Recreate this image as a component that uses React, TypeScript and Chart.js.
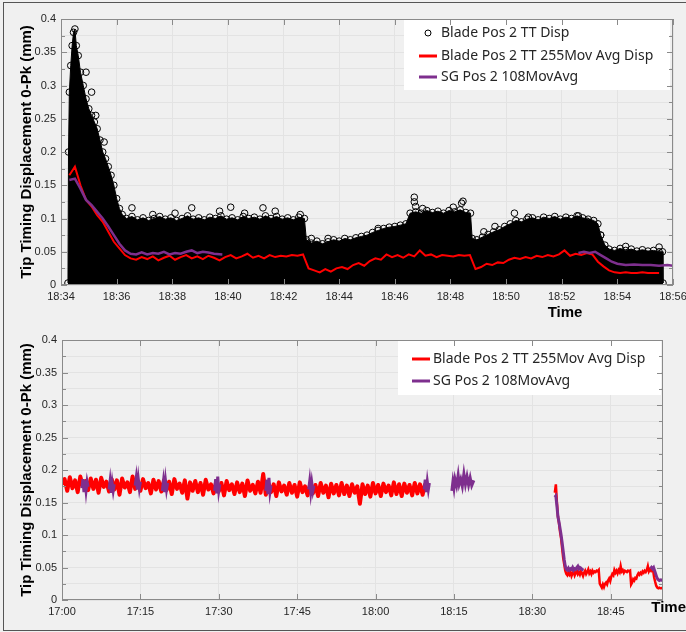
import React, { useEffect, useRef } from 'react';
import { Chart, registerables } from 'chart.js';

Chart.register(...registerables);

// ---------- tick labels ----------
const TOP_X_TICKS = ['18:34', '18:36', '18:38', '18:40', '18:42', '18:44', '18:46', '18:48', '18:50', '18:52', '18:54', '18:56'];
const BOTTOM_X_TICKS = ['17:00', '17:15', '17:30', '17:45', '18:00', '18:15', '18:30', '18:45'];
const BOTTOM_X_END = '18:55';
const Y_TICKS = [0, 0.025, 0.05, 0.075, 0.1, 0.125, 0.15, 0.175, 0.2, 0.225, 0.25, 0.275, 0.3, 0.325, 0.35, 0.375, 0.4];
const Y_LABELED = [0, 0.05, 0.1, 0.15, 0.2, 0.25, 0.3, 0.35, 0.4];

// ---------- series labels ----------
const LABEL_TT = 'Blade Pos 2 TT Disp';
const LABEL_RED = 'Blade Pos 2 TT 255Mov Avg Disp';
const LABEL_SG = 'SG Pos 2 108MovAvg';
const Y_TITLE = 'Tip Timing Displacement 0-Pk (mm)';
const X_TITLE = 'Time';

// ---------- top chart: raw tip timing scatter (upper edge of the dense cloud, minutes after 18:00, mm) ----------
const ttCloudTop: [number, number][] = [
  [34.25, 0.003], [34.27, 0.2], [34.3, 0.29], [34.35, 0.33], [34.4, 0.36], [34.45, 0.38], [34.5, 0.385], [34.55, 0.36],
  [34.62, 0.345], [34.7, 0.32], [34.8, 0.3], [34.9, 0.28], [35.0, 0.265], [35.1, 0.255], [35.2, 0.245], [35.3, 0.235],
  [35.4, 0.218], [35.5, 0.2], [35.6, 0.19], [35.7, 0.178], [35.8, 0.165], [35.9, 0.15], [36.0, 0.13], [36.1, 0.115],
  [36.2, 0.106], [36.35, 0.1], [36.55, 0.103], [36.75, 0.098], [36.95, 0.101], [37.15, 0.097], [37.35, 0.1], [37.55, 0.103],
  [37.75, 0.099], [37.95, 0.101], [38.15, 0.097], [38.35, 0.1], [38.55, 0.104], [38.75, 0.099], [38.95, 0.101], [39.15, 0.098],
  [39.35, 0.102], [39.55, 0.1], [39.75, 0.104], [39.95, 0.099], [40.15, 0.101], [40.35, 0.098], [40.55, 0.103], [40.75, 0.1],
  [40.95, 0.102], [41.15, 0.099], [41.35, 0.104], [41.55, 0.1], [41.75, 0.103], [41.95, 0.099], [42.15, 0.101], [42.35, 0.098],
  [42.55, 0.102], [42.75, 0.1], [42.82, 0.068], [43.0, 0.063], [43.2, 0.066], [43.4, 0.062], [43.6, 0.065], [43.8, 0.068],
  [44.0, 0.066], [44.2, 0.07], [44.4, 0.068], [44.6, 0.071], [44.8, 0.073], [45.0, 0.075], [45.2, 0.079], [45.4, 0.082],
  [45.6, 0.085], [45.8, 0.087], [46.0, 0.088], [46.2, 0.09], [46.4, 0.092], [46.55, 0.108], [46.75, 0.11], [46.95, 0.108],
  [47.15, 0.112], [47.35, 0.109], [47.55, 0.111], [47.75, 0.108], [47.95, 0.112], [48.15, 0.11], [48.35, 0.113], [48.55, 0.109],
  [48.72, 0.108], [48.78, 0.07], [48.95, 0.068], [49.15, 0.072], [49.35, 0.076], [49.55, 0.08], [49.75, 0.083], [49.95, 0.088],
  [50.15, 0.092], [50.35, 0.097], [50.55, 0.095], [50.75, 0.099], [50.95, 0.101], [51.15, 0.098], [51.35, 0.102], [51.55, 0.1],
  [51.75, 0.103], [51.95, 0.099], [52.15, 0.102], [52.35, 0.1], [52.55, 0.104], [52.75, 0.101], [52.95, 0.099], [53.15, 0.097],
  [53.3, 0.092], [53.4, 0.075], [53.55, 0.06], [53.7, 0.054], [53.9, 0.052], [54.1, 0.055], [54.3, 0.052], [54.5, 0.054],
  [54.7, 0.051], [54.9, 0.053], [55.1, 0.051], [55.3, 0.052], [55.5, 0.05], [55.62, 0.05], [55.64, 0.003],
];

// isolated circles above the cloud (minutes after 18:00, mm)
const ttOutliers: [number, number][] = [
  [34.9, 0.32], [35.1, 0.29], [35.25, 0.255], [35.55, 0.215], [36.55, 0.116], [37.3, 0.106], [38.1, 0.108], [38.7, 0.116],
  [39.7, 0.111], [40.1, 0.117], [40.6, 0.108], [41.26, 0.116], [41.7, 0.111], [42.6, 0.106], [43.0, 0.07], [43.6, 0.07],
  [45.4, 0.085], [46.7, 0.132], [46.7, 0.125], [46.75, 0.118], [47.0, 0.115], [48.1, 0.117], [48.4, 0.123], [48.45, 0.126],
  [49.2, 0.08], [49.6, 0.088], [50.3, 0.108], [50.8, 0.102], [52.6, 0.104], [52.9, 0.096], [53.4, 0.075], [54.3, 0.058],
  [55.5, 0.057],
];

// ---------- 255-sample moving average, late run (from 18:34.3, every 0.2 min) ----------
const redLateStart = 34.3;
const redLateStep = 0.2;
const redLate = [
  0.165, 0.178, 0.15, 0.128, 0.118, 0.105, 0.095, 0.08, 0.065, 0.055,
  0.045, 0.04, 0.038, 0.042, 0.039, 0.043, 0.037, 0.041, 0.044, 0.038,
  0.042, 0.045, 0.04, 0.043, 0.039, 0.044, 0.041, 0.037, 0.042, 0.045,
  0.04, 0.043, 0.047, 0.041, 0.044, 0.04, 0.045, 0.042, 0.044, 0.043,
  0.045, 0.044, 0.046, 0.025, 0.022, 0.019, 0.024, 0.02, 0.025, 0.027,
  0.024, 0.03, 0.033, 0.029, 0.036, 0.04, 0.038, 0.046, 0.042, 0.045,
  0.041, 0.046, 0.043, 0.052, 0.044, 0.046, 0.042, 0.045, 0.044, 0.043,
  0.045, 0.044, 0.045, 0.024, 0.027, 0.032, 0.03, 0.034, 0.033, 0.038,
  0.041, 0.039, 0.042, 0.04, 0.044, 0.042, 0.045, 0.043, 0.046, 0.052,
  0.044, 0.047, 0.045, 0.048, 0.046, 0.035, 0.028, 0.022, 0.019, 0.018,
  0.019, 0.018, 0.018, 0.019, 0.018, 0.018, 0.018,
];

// ---------- strain gauge 108 moving average, late run (minutes after 18:00) ----------
const sgLate: [number, number | null][] = [
  [34.3, 0.158], [34.5, 0.16], [34.7, 0.145], [34.9, 0.128], [35.1, 0.12], [35.3, 0.11], [35.5, 0.1], [35.7, 0.088],
  [35.9, 0.075], [36.1, 0.062], [36.3, 0.052], [36.5, 0.047], [36.7, 0.046], [36.9, 0.049], [37.1, 0.046], [37.3, 0.048],
  [37.5, 0.047], [37.7, 0.05], [37.9, 0.046], [38.1, 0.048], [38.3, 0.047], [38.5, 0.05], [38.7, 0.052], [38.9, 0.048],
  [39.1, 0.05], [39.3, 0.049], [39.5, 0.047], [39.8, 0.046], [40.0, null],
  [52.6, 0.048], [52.8, 0.05], [53.0, 0.048], [53.2, 0.05], [53.4, 0.045], [53.6, 0.04], [53.8, 0.035], [54.0, 0.032],
  [54.3, 0.03], [54.6, 0.031], [54.9, 0.03], [55.2, 0.03], [55.5, 0.029], [55.8, 0.03], [56.0, 0.029],
];

// ---------- bottom chart, early run 17:00 - 18:09.5 (every 0.5 min) ----------
const redEarlyStart = 0; // minutes after 17:00
const redEarlyStep = 0.5;
const redEarly = [
  0.178, 0.186, 0.168, 0.189, 0.172, 0.184, 0.166, 0.19, 0.175, 0.183, 0.169, 0.187, 0.171, 0.185, 0.165, 0.188, 0.174, 0.182, 0.167, 0.186,
  0.17, 0.184, 0.162, 0.187, 0.173, 0.181, 0.166, 0.19, 0.171, 0.183, 0.168, 0.186, 0.172, 0.18, 0.164, 0.185, 0.17, 0.183, 0.167, 0.184,
  0.169, 0.182, 0.163, 0.186, 0.171, 0.179, 0.165, 0.184, 0.156, 0.181, 0.168, 0.183, 0.166, 0.18, 0.162, 0.185, 0.17, 0.178, 0.164, 0.182,
  0.167, 0.18, 0.161, 0.183, 0.169, 0.178, 0.163, 0.181, 0.166, 0.179, 0.16, 0.184, 0.168, 0.177, 0.164, 0.182, 0.165, 0.194, 0.162, 0.179,
  0.166, 0.178, 0.16, 0.181, 0.167, 0.176, 0.162, 0.18, 0.165, 0.177, 0.159, 0.181, 0.166, 0.175, 0.161, 0.179, 0.164, 0.177, 0.16, 0.18,
  0.165, 0.176, 0.158, 0.179, 0.164, 0.177, 0.161, 0.18, 0.163, 0.176, 0.16, 0.178, 0.165, 0.175, 0.148, 0.178, 0.163, 0.176, 0.159, 0.18,
  0.164, 0.177, 0.16, 0.179, 0.166, 0.176, 0.161, 0.181, 0.163, 0.178, 0.16, 0.179, 0.165, 0.177, 0.161, 0.18, 0.164, 0.178, 0.162, 0.179,
];

// strain gauge bursts in the early run (minutes after 17:00, mm; null = gap)
const sgEarly: [number, number | null][] = [
  [3.8, 0.172], [4.0, 0.186], [4.2, 0.166], [4.4, 0.184], [4.6, 0.168], [4.8, 0.182], [5.0, 0.174], [5.1, null],
  [9.0, 0.17], [9.2, 0.183], [9.4, 0.165], [9.6, 0.18], [9.8, 0.168], [10.0, 0.178], [10.1, null],
  [14.0, 0.176], [14.2, 0.188], [14.4, 0.17], [14.6, 0.186], [14.8, 0.172], [15.0, 0.182], [15.1, null],
  [19.2, 0.168], [19.4, 0.182], [19.6, 0.166], [19.8, 0.184], [20.0, 0.17], [20.2, 0.18], [20.3, null],
  [29.2, 0.168], [29.4, 0.186], [29.6, 0.164], [29.8, 0.19], [30.0, 0.168], [30.2, 0.178], [30.3, null],
  [39.0, 0.168], [39.2, 0.185], [39.4, 0.163], [39.6, 0.188], [39.8, 0.166], [40.0, 0.176], [40.1, null],
  [47.2, 0.17], [47.4, 0.183], [47.6, 0.166], [47.8, 0.18], [48.0, 0.168], [48.2, 0.176], [48.3, null],
  [69.3, 0.17], [69.5, 0.185], [69.7, 0.166], [69.9, 0.182], [70.1, 0.17], [70.3, 0.18], [70.4, null],
  [74.6, 0.168], [74.8, 0.182], [75.0, 0.172], [75.2, 0.186], [75.5, 0.176], [75.8, 0.192], [76.0, 0.178], [76.3, 0.186],
  [76.6, 0.175], [76.9, 0.194], [77.2, 0.178], [77.5, 0.19], [77.8, 0.177], [78.1, 0.188], [78.4, 0.176], [78.8, 0.184], [78.9, null],
];

// ---------- colours ----------
const RED = '#ff0000';
const PURPLE = '#7e2f8e';
const GRID = '#e3e3e3';
const AXIS = '#8a8a8a';
const TEXT = '#262626';
const FONT = '"Liberation Sans", Arial, sans-serif';
const LEGEND_FONT = '"Noto Sans", "Open Sans", sans-serif';

// ---------- helpers ----------
const hm = (s: string) => {
  const [h, m] = s.split(':').map(Number);
  return h * 60 + m;
};
const fmt = (v: number) => {
  const h = Math.floor(v / 60 + 1e-9);
  const m = Math.round(v - h * 60);
  return `${h}:${m < 10 ? '0' : ''}${m}`;
};
const H18 = hm('18:00');
const H17 = hm('17:00');

const toPts = (arr: [number, number | null][], base: number) => arr.map(([t, v]) => ({ x: base + t, y: v }));
const seriesPts = (vals: number[], start: number, step: number, base: number) =>
  vals.map((v, i) => ({ x: base + start + i * step, y: v }));

const matlabPlugin = {
  id: 'matlab',
  afterDatasetsDraw(chart: any, _args: any, opts: any) {
    const { ctx, chartArea: ca, scales } = chart;
    const xs = scales.x;
    const ys = scales.y;
    ctx.save();
    // legend box
    const lg = opts.legend;
    ctx.fillStyle = '#ffffff';
    ctx.fillRect(lg.x, lg.y, lg.w, lg.h);
    ctx.font = `${lg.fontSize}px ${LEGEND_FONT}`;
    ctx.textBaseline = 'middle';
    ctx.textAlign = 'left';
    const items = chart.data.datasets.filter((d: any) => d.legendMarker);
    items.forEach((d: any, i: number) => {
      const cy = lg.rows[i];
      if (d.legendMarker === 'circle') {
        ctx.beginPath();
        ctx.arc(lg.markerX, cy, 3, 0, Math.PI * 2);
        ctx.strokeStyle = '#000';
        ctx.lineWidth = 1;
        ctx.stroke();
      } else {
        ctx.beginPath();
        ctx.moveTo(lg.lineX0, cy);
        ctx.lineTo(lg.lineX1, cy);
        ctx.strokeStyle = d.borderColor;
        ctx.lineWidth = 3;
        ctx.stroke();
      }
      ctx.fillStyle = TEXT;
      ctx.fillText(d.label, lg.textX, cy + 0.5);
    });
    // axes box
    ctx.strokeStyle = AXIS;
    ctx.lineWidth = 1;
    ctx.strokeRect(Math.round(ca.left) + 0.5, Math.round(ca.top) + 0.5, Math.round(ca.width) - 1, Math.round(ca.height) - 1);
    // inward ticks
    ctx.beginPath();
    ys.ticks.forEach((t: any) => {
      const py = Math.round(ys.getPixelForValue(t.value)) + 0.5;
      const major = Y_LABELED.some((v) => Math.abs(v - t.value) < 1e-6);
      const len = major ? 6 : 4;
      ctx.moveTo(ca.left, py);
      ctx.lineTo(ca.left + len, py);
      ctx.moveTo(ca.right, py);
      ctx.lineTo(ca.right - len, py);
    });
    xs.ticks.forEach((t: any) => {
      const px = Math.round(xs.getPixelForValue(t.value)) + 0.5;
      ctx.moveTo(px, ca.bottom);
      ctx.lineTo(px, ca.bottom - 6);
      ctx.moveTo(px, ca.top);
      ctx.lineTo(px, ca.top + 6);
    });
    ctx.stroke();
    ctx.restore();
  },
  afterDraw(chart: any, _args: any, opts: any) {
    const { ctx } = chart;
    ctx.save();
    ctx.fillStyle = '#000';
    ctx.textBaseline = 'middle';
    ctx.font = `bold 15px ${FONT}`;
    ctx.translate(opts.yTitle.x, opts.yTitle.y);
    ctx.rotate(-Math.PI / 2);
    ctx.textAlign = 'center';
    ctx.fillText(Y_TITLE, 0, 0);
    ctx.restore();
    ctx.save();
    ctx.fillStyle = '#000';
    ctx.textBaseline = 'middle';
    ctx.font = `bold 15px ${FONT}`;
    ctx.textAlign = opts.xTitle.align;
    ctx.fillText(X_TITLE, opts.xTitle.x, opts.xTitle.y);
    ctx.restore();
  },
};

function makeOptions(xMin: number, xMax: number, xTicks: number[], g: any, pluginOpts: any) {
  return {
    responsive: false,
    animation: false,
    devicePixelRatio: 1,
    layout: { padding: { left: 0, right: g.padRight, top: g.padTop, bottom: 0 } },
    plugins: { legend: { display: false }, tooltip: { enabled: false }, matlab: pluginOpts },
    elements: { line: { tension: 0 } },
    scales: {
      x: {
        type: 'linear',
        min: xMin,
        max: xMax,
        afterBuildTicks: (s: any) => {
          s.ticks = xTicks.map((v) => ({ value: v }));
        },
        afterFit: (s: any) => {
          s.height = g.xHeight;
          s.paddingLeft = 0;
          s.paddingRight = 0;
        },
        grid: { color: GRID, drawTicks: false },
        border: { display: false },
        ticks: {
          autoSkip: false,
          maxRotation: 0,
          padding: 5,
          color: TEXT,
          font: { family: FONT, size: 11 },
          callback: (v: number) => fmt(v),
        },
      },
      y: {
        type: 'linear',
        min: 0,
        max: 0.4,
        afterBuildTicks: (s: any) => {
          s.ticks = Y_TICKS.map((v) => ({ value: v }));
        },
        afterFit: (s: any) => {
          s.width = g.yWidth;
        },
        grid: { color: GRID, drawTicks: false },
        border: { display: false },
        ticks: {
          autoSkip: false,
          padding: 5,
          color: TEXT,
          font: { family: FONT, size: 11 },
          callback: (v: number) =>
            Y_LABELED.some((u) => Math.abs(u - v) < 1e-6) ? String(Math.round(v * 1000) / 1000) : '',
        },
      },
    },
  };
}

function topConfig() {
  const xTicks = TOP_X_TICKS.map(hm);
  return {
    type: 'line',
    data: {
      datasets: [
        {
          label: LABEL_TT,
          legendMarker: 'circle',
          data: toPts(ttCloudTop, H18),
          borderColor: '#000',
          borderWidth: 1,
          backgroundColor: '#000',
          fill: 'origin',
          pointRadius: 3.3,
          pointBorderWidth: 1,
          pointBorderColor: '#000',
          pointBackgroundColor: 'rgba(255,255,255,0)',
          order: 4,
        },
        {
          label: 'outliers',
          data: toPts(ttOutliers, H18),
          showLine: false,
          borderColor: '#000',
          pointRadius: 3.3,
          pointBorderWidth: 1,
          pointBorderColor: '#000',
          pointBackgroundColor: 'rgba(255,255,255,0)',
          order: 3,
        },
        {
          label: LABEL_RED,
          legendMarker: 'line',
          data: seriesPts(redLate, redLateStart, redLateStep, H18),
          borderColor: RED,
          borderWidth: 2,
          pointRadius: 0,
          order: 2,
        },
        {
          label: LABEL_SG,
          legendMarker: 'line',
          data: toPts(sgLate, H18),
          borderColor: PURPLE,
          borderWidth: 2.5,
          pointRadius: 0,
          spanGaps: false,
          order: 1,
        },
      ],
    },
    options: makeOptions(hm('18:34'), hm('18:56'), xTicks, { padRight: 13, padTop: 19, yWidth: 61, xHeight: 35 }, {
      legend: { x: 404, y: 20, w: 266, h: 70, fontSize: 14, rows: [33, 56, 77], markerX: 428, lineX0: 419, lineX1: 437, textX: 441 },
      yTitle: { x: 27, y: 152 },
      xTitle: { x: 565, y: 313, align: 'center' },
    }),
    plugins: [matlabPlugin],
  };
}

function bottomConfig() {
  const xTicks = BOTTOM_X_TICKS.map(hm);
  const sgPts = [...toPts(sgEarly, H17), ...toPts(sgLate, H18)];
  return {
    type: 'line',
    data: {
      datasets: [
        {
          label: LABEL_RED,
          legendMarker: 'line',
          data: seriesPts(redEarly, redEarlyStart, redEarlyStep, H17),
          borderColor: RED,
          borderWidth: 4,
          borderJoinStyle: 'round',
          pointRadius: 0,
          order: 3,
        },
        {
          label: LABEL_RED + ' (late)',
          data: seriesPts(redLate, redLateStart, redLateStep, H18),
          borderColor: RED,
          borderWidth: 2.5,
          pointRadius: 0,
          order: 2,
        },
        {
          label: LABEL_SG,
          legendMarker: 'line',
          data: sgPts,
          borderColor: PURPLE,
          borderWidth: 3,
          pointRadius: 0,
          spanGaps: false,
          order: 1,
        },
      ],
    },
    options: makeOptions(hm('17:00'), hm(BOTTOM_X_END), xTicks, { padRight: 23, padTop: 20, yWidth: 62, xHeight: 32 }, {
      legend: { x: 398, y: 21, w: 263, h: 54, fontSize: 14, rows: [39, 61], markerX: 421, lineX0: 412, lineX1: 430, textX: 433 },
      yTitle: { x: 27, y: 150 },
      xTitle: { x: 686, y: 288, align: 'right' },
    }),
    plugins: [matlabPlugin],
  };
}

function ChartCanvas({ make, width, height }: { make: () => any; width: number; height: number }) {
  const ref = useRef<HTMLCanvasElement | null>(null);
  useEffect(() => {
    if (!ref.current) return;
    const chart = new Chart(ref.current, make());
    return () => chart.destroy();
  }, [make]);
  return <canvas ref={ref} width={width} height={height} style={{ display: 'block', width, height }} />;
}

export default function App() {
  return (
    <div style={{ position: 'fixed', left: 0, top: 0, width: 686, height: 632, background: '#f0f0f0', overflow: 'hidden' }}>
      <div style={{ position: 'absolute', left: 0, top: 0 }}>
        <ChartCanvas make={topConfig} width={686} height={320} />
      </div>
      <div style={{ position: 'absolute', left: 0, top: 320 }}>
        <ChartCanvas make={bottomConfig} width={686} height={312} />
      </div>
      <div
        style={{
          position: 'absolute',
          left: 3,
          top: 2,
          width: 683,
          height: 627,
          borderLeft: '1px solid #555',
          borderTop: '1px solid #555',
          borderBottom: '1px solid #555',
          pointerEvents: 'none',
        }}
      />
    </div>
  );
}
